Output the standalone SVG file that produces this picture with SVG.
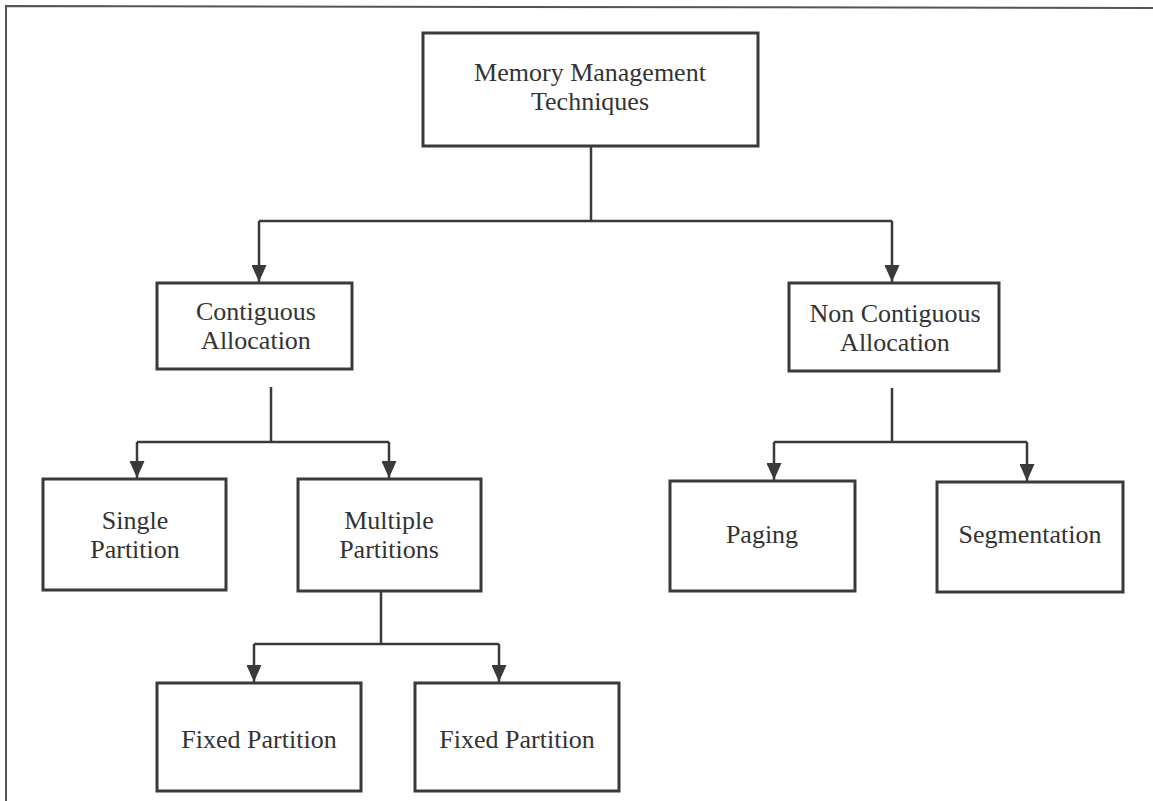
<svg xmlns="http://www.w3.org/2000/svg" width="1153" height="801" viewBox="0 0 1153 801">
  <defs>
    <style>
      .box { fill: #ffffff; stroke: #3a3a3a; stroke-width: 3; }
      .lbl { font-family: "Liberation Serif", "Times New Roman", serif; font-size: 26px; fill: #333333; text-anchor: middle; }
      .wire { fill: none; stroke: #3a3a3a; stroke-width: 2.5; }
      .frame { fill: none; stroke: #555555; stroke-width: 2; }
    </style>
    <marker id="head" viewBox="0 0 17 15" refX="17" refY="7.5" markerWidth="17" markerHeight="15" markerUnits="userSpaceOnUse" orient="auto">
      <path d="M0,0 L17,7.5 L0,15 Z" fill="#3a3a3a"/>
    </marker>
  </defs>

  <rect width="1153" height="801" fill="#ffffff"/>

  <!-- page frame -->
  <path class="frame" d="M6,801 L6,6 L1153,8"/>

  <!-- connectors -->
  <g id="connectors">
    <path class="wire" d="M591,146 L591,221"/>
    <path class="wire" d="M259,221 L892,221"/>
    <path class="wire" d="M259,221 L259,282" marker-end="url(#head)"/>
    <path class="wire" d="M892,221 L892,282" marker-end="url(#head)"/>

    <path class="wire" d="M271,387 L271,442"/>
    <path class="wire" d="M137,442 L389,442"/>
    <path class="wire" d="M137,442 L137,478" marker-end="url(#head)"/>
    <path class="wire" d="M389,442 L389,478" marker-end="url(#head)"/>

    <path class="wire" d="M892,388 L892,442"/>
    <path class="wire" d="M774,442 L1027,442"/>
    <path class="wire" d="M774,442 L774,480" marker-end="url(#head)"/>
    <path class="wire" d="M1027,442 L1027,481" marker-end="url(#head)"/>

    <path class="wire" d="M381,591 L381,644"/>
    <path class="wire" d="M254,644 L499,644"/>
    <path class="wire" d="M254,644 L254,682" marker-end="url(#head)"/>
    <path class="wire" d="M499,644 L499,682" marker-end="url(#head)"/>
  </g>

  <!-- nodes -->
  <g id="root">
    <rect class="box" x="423" y="33" width="335" height="113"/>
    <text class="lbl" x="590" y="81">Memory Management</text>
    <text class="lbl" x="590" y="110">Techniques</text>
  </g>

  <g id="contiguous">
    <rect class="box" x="157" y="283" width="195" height="86"/>
    <text class="lbl" x="256" y="320">Contiguous</text>
    <text class="lbl" x="256" y="349">Allocation</text>
  </g>

  <g id="non-contiguous">
    <rect class="box" x="789" y="283" width="210" height="88"/>
    <text class="lbl" x="895" y="322">Non Contiguous</text>
    <text class="lbl" x="895" y="351">Allocation</text>
  </g>

  <g id="single-partition">
    <rect class="box" x="43" y="479" width="183" height="111"/>
    <text class="lbl" x="135" y="529">Single</text>
    <text class="lbl" x="135" y="558">Partition</text>
  </g>

  <g id="multiple-partitions">
    <rect class="box" x="298" y="479" width="183" height="112"/>
    <text class="lbl" x="389" y="529">Multiple</text>
    <text class="lbl" x="389" y="558">Partitions</text>
  </g>

  <g id="paging">
    <rect class="box" x="670" y="481" width="185" height="110"/>
    <text class="lbl" x="762" y="543">Paging</text>
  </g>

  <g id="segmentation">
    <rect class="box" x="937" y="482" width="186" height="110"/>
    <text class="lbl" x="1030" y="543">Segmentation</text>
  </g>

  <g id="fixed-partition-1">
    <rect class="box" x="157" y="683" width="204" height="108"/>
    <text class="lbl" x="259" y="748">Fixed Partition</text>
  </g>

  <g id="fixed-partition-2">
    <rect class="box" x="415" y="683" width="204" height="108"/>
    <text class="lbl" x="517" y="748">Fixed Partition</text>
  </g>
</svg>
